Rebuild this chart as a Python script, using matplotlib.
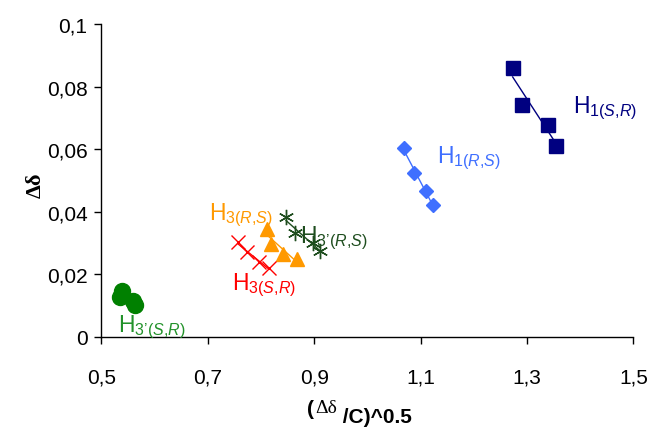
import numpy as np
import matplotlib
matplotlib.use("Agg")
import matplotlib.pyplot as plt
from matplotlib.ticker import FuncFormatter, FixedLocator

plt.rcParams["font.family"] = ["Liberation Sans", "DejaVu Sans"]
plt.rcParams["mathtext.fontset"] = "custom"
plt.rcParams["mathtext.rm"] = "Liberation Sans"
plt.rcParams["mathtext.it"] = "Liberation Sans:italic"
plt.rcParams["mathtext.bf"] = "Liberation Sans:bold"

# (x, y) per proton signal, read as sqrt(dd/C) vs dd
h1_sr_x = [1.273, 1.291, 1.340, 1.354]
h1_sr_y = [0.0860, 0.0743, 0.0678, 0.0611]

h1_rs_x = [1.069, 1.087, 1.110, 1.123]
h1_rs_y = [0.0604, 0.0523, 0.0465, 0.0423]

h3_rs_x = [0.812, 0.819, 0.842, 0.867]
h3_rs_y = [0.0345, 0.0297, 0.0265, 0.0249]

h3_sr_x = [0.756, 0.773, 0.796, 0.815]
h3_sr_y = [0.0302, 0.0270, 0.0240, 0.0219]

h3p_rs_x = [0.847, 0.864, 0.898, 0.911]
h3p_rs_y = [0.0382, 0.0331, 0.0299, 0.0275]

h3p_sr_x = [0.538, 0.534, 0.560, 0.563]
h3p_sr_y = [0.0147, 0.0126, 0.0115, 0.0101]

x_ticks = [0.5, 0.7, 0.9, 1.1, 1.3, 1.5]
y_ticks = [0, 0.02, 0.04, 0.06, 0.08, 0.1]


def hlabel(sub, conf):
    return "H$_{\\mathrm{" + sub + "(}\\mathit{" + conf + "}\\mathrm{)}}$"


series = [
    # x, y, marker, size, color, label, label position, label color
    (h1_sr_x, h1_sr_y, "s", 9.5, "#000080", hlabel("1", "S{,}R"), (1.387, 0.0718), "#000080"),
    (h1_rs_x, h1_rs_y, "D", 7, "#3F6FFF", hlabel("1", "R{,}S"), (1.130, 0.0558), "#3F6FFF"),
    (h3_rs_x, h3_rs_y, "^", 10.5, "#FF9900", hlabel("3", "R{,}S"), (0.7026, 0.0375), "#FF9900"),
    (h3_sr_x, h3_sr_y, "x", 9.5, "#FF0000", hlabel("3", "S{,}R"), (0.7447, 0.0153), "#FF0000"),
    (h3p_rs_x, h3p_rs_y, (6, 2, 0), 11, "#1E4D1E", hlabel("3\u2019", "R{,}S"), (0.873, 0.0302), "#1E4D1E"),
    (h3p_sr_x, h3p_sr_y, "o", 11.5, "#008000", hlabel("3\u2019", "S{,}R"), (0.5316, 0.0019), "#22922A"),
]

fig = plt.figure(figsize=(6.53, 4.35), dpi=100)
ax = fig.add_axes([0.1554, 0.2237, 0.8146, 0.7181])

for x, y, mk, ms, col, lab, pos, lcol in series:
    x = np.array(x)
    y = np.array(y)
    k, b = np.polyfit(x, y, 1)
    xs = np.array([x.min(), x.max()])
    ax.plot(xs, k * xs + b, color=col, lw=1, zorder=2)
    ax.plot(x, y, linestyle="none", marker=mk, markersize=ms, color=col,
            markeredgecolor=col, markeredgewidth=1, zorder=3)
    ax.text(pos[0], pos[1], lab, color=lcol, fontsize=16.5, ha="left",
            va="baseline", zorder=4)

ax.set_xlim(0.5, 1.5)
ax.set_ylim(0, 0.1)
ax.xaxis.set_major_locator(FixedLocator(x_ticks))
ax.yaxis.set_major_locator(FixedLocator(y_ticks))
comma = FuncFormatter(lambda v, p: f"{v:g}".replace(".", ","))
ax.xaxis.set_major_formatter(comma)
ax.yaxis.set_major_formatter(comma)
ax.tick_params(labelsize=15, length=5, width=1, direction="out")
ax.tick_params(axis="x", pad=17)
ax.tick_params(axis="y", pad=5)

for side in ("top", "right"):
    ax.spines[side].set_visible(False)
for side in ("left", "bottom"):
    ax.spines[side].set_linewidth(1)

# y label
fig.text(0.055, 0.575, "Δδ", rotation=90, fontsize=16, fontweight="bold",
         family="Liberation Serif", ha="center", va="center")

# x label built from pieces so that the delta part sits raised
t1 = fig.text(0.470, 0.046, "(", fontsize=15, fontweight="bold",
              ha="left", va="baseline")
t2 = ax.annotate("Δδ", xy=(1, 0), xycoords=t1, xytext=(1, 4),
                 textcoords="offset points", fontsize=14,
                 family="Liberation Serif", ha="left", va="baseline")
ax.annotate(" /C)^0.5", xy=(1, 0), xycoords=t2, xytext=(0, -4),
            textcoords="offset points", fontsize=15, fontweight="bold",
            ha="left", va="baseline")

fig.savefig("out.png", dpi=100)
